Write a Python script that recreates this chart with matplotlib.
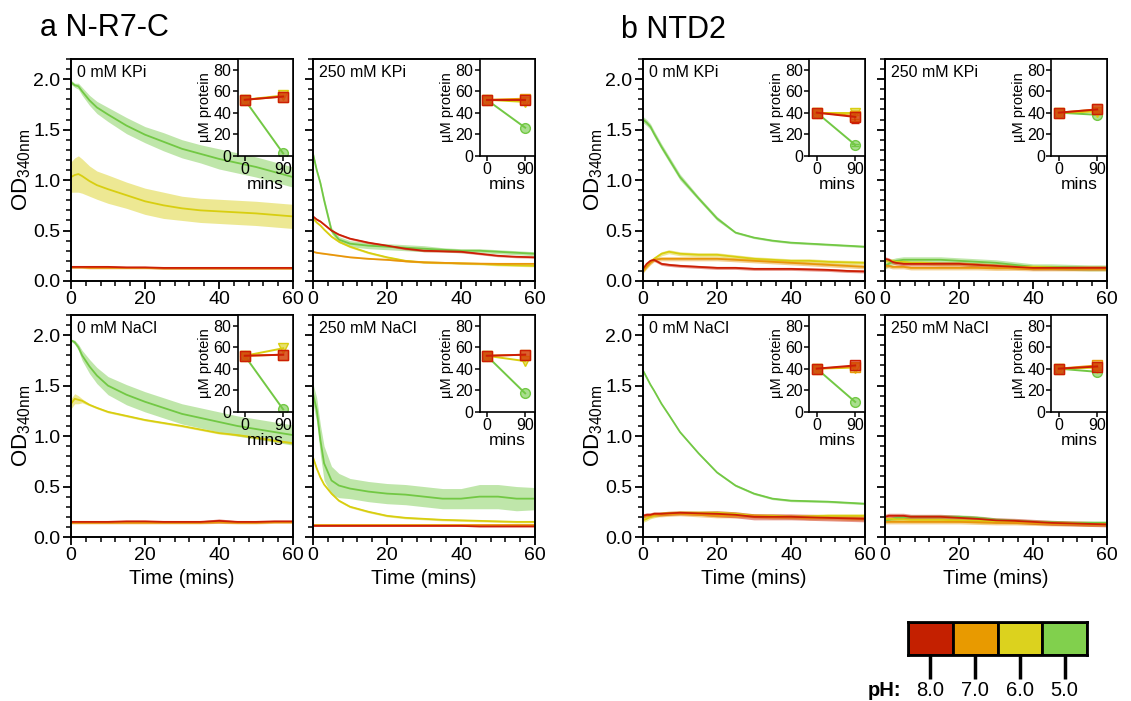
import numpy as np
import matplotlib
matplotlib.use('Agg')
import matplotlib.pyplot as plt
from matplotlib.ticker import MultipleLocator, FormatStrFormatter

plt.rcParams['font.family'] = ['Liberation Sans', 'DejaVu Sans']
plt.rcParams['mathtext.fontset'] = 'custom'
plt.rcParams['mathtext.rm'] = 'Liberation Sans'
plt.rcParams['mathtext.it'] = 'Liberation Sans:italic'

# ---------------- data ----------------
ph_labels = ['8.0', '7.0', '6.0', '5.0']
line_colors = ['#CC1E05', '#E8960A', '#D8CE10', '#72C844']
box_colors = ['#C42000', '#E89A00', '#DCD21E', '#81D04D']
markers = ['s', 's', 'v', 'o']

T = [0, 1, 2, 3, 5, 7, 10, 15, 20, 25, 30, 35, 40, 45, 50, 55, 60]

# order of series in every panel: pH 8.0 (red), 7.0 (orange), 6.0 (yellow), 5.0 (green)
A_KPI0 = [
    [0.14, 0.14, 0.14, 0.14, 0.14, 0.14, 0.14, 0.135, 0.135, 0.13, 0.13, 0.13, 0.13, 0.13, 0.13, 0.13, 0.13],
    [0.135, 0.135, 0.135, 0.135, 0.13, 0.13, 0.13, 0.13, 0.13, 0.125, 0.125, 0.125, 0.125, 0.125, 0.125, 0.125, 0.125],
    [1.03, 1.05, 1.06, 1.04, 0.99, 0.95, 0.91, 0.85, 0.79, 0.75, 0.72, 0.70, 0.69, 0.68, 0.67, 0.655, 0.64],
    [1.97, 1.94, 1.93, 1.88, 1.79, 1.72, 1.65, 1.54, 1.45, 1.38, 1.31, 1.26, 1.21, 1.17, 1.13, 1.08, 1.03],
]
A_KPI0_SD = [
    [0.01] * 17,
    [0.01] * 17,
    [0.15, 0.17, 0.18, 0.17, 0.15, 0.14, 0.14, 0.13, 0.13, 0.13, 0.12, 0.12, 0.12, 0.12, 0.12, 0.12, 0.12],
    [0.02, 0.02, 0.03, 0.04, 0.05, 0.06, 0.07, 0.08, 0.08, 0.09, 0.09, 0.09, 0.10, 0.10, 0.10, 0.10, 0.10],
]

A_KPI250 = [
    [0.64, 0.61, 0.59, 0.56, 0.50, 0.46, 0.42, 0.38, 0.35, 0.32, 0.30, 0.295, 0.29, 0.27, 0.25, 0.24, 0.235],
    [0.29, 0.28, 0.275, 0.27, 0.26, 0.25, 0.235, 0.22, 0.21, 0.195, 0.185, 0.18, 0.175, 0.172, 0.17, 0.17, 0.17],
    [0.62, 0.58, 0.55, 0.51, 0.44, 0.39, 0.34, 0.28, 0.235, 0.20, 0.185, 0.18, 0.175, 0.17, 0.16, 0.155, 0.15],
    [1.26, 1.10, 0.97, 0.80, 0.50, 0.41, 0.37, 0.35, 0.34, 0.33, 0.32, 0.31, 0.30, 0.30, 0.29, 0.28, 0.27],
]
A_KPI250_SD = [
    [0.01] * 17,
    [0.005] * 17,
    [0.01] * 17,
    [0.02, 0.02, 0.02, 0.03, 0.03, 0.03, 0.03, 0.03, 0.03, 0.03, 0.03, 0.02, 0.02, 0.02, 0.02, 0.02, 0.02],
]

A_NACL0 = [
    [0.15, 0.15, 0.15, 0.15, 0.15, 0.15, 0.15, 0.155, 0.155, 0.15, 0.15, 0.15, 0.16, 0.15, 0.15, 0.155, 0.155],
    [0.14, 0.14, 0.14, 0.14, 0.14, 0.14, 0.14, 0.14, 0.14, 0.14, 0.14, 0.14, 0.145, 0.14, 0.14, 0.145, 0.145],
    [1.32, 1.37, 1.36, 1.35, 1.31, 1.28, 1.24, 1.20, 1.16, 1.13, 1.10, 1.065, 1.03, 1.01, 0.985, 0.955, 0.93],
    [1.95, 1.93, 1.88, 1.80, 1.69, 1.60, 1.50, 1.41, 1.34, 1.28, 1.22, 1.18, 1.14, 1.10, 1.07, 1.04, 1.01],
]
A_NACL0_SD = [
    [0.01, 0.01, 0.01, 0.01, 0.01, 0.01, 0.01, 0.01, 0.01, 0.01, 0.01, 0.01, 0.02, 0.01, 0.01, 0.01, 0.01],
    [0.01] * 17,
    [0.05, 0.05, 0.04, 0.02, 0.01, 0.01, 0.01, 0.01, 0.01, 0.01, 0.01, 0.01, 0.01, 0.01, 0.01, 0.01, 0.01],
    [0.01, 0.02, 0.03, 0.05, 0.07, 0.08, 0.09, 0.10, 0.10, 0.10, 0.10, 0.10, 0.10, 0.10, 0.10, 0.10, 0.10],
]

A_NACL250 = [
    [0.11, 0.11, 0.11, 0.11, 0.11, 0.11, 0.11, 0.11, 0.11, 0.11, 0.11, 0.11, 0.11, 0.105, 0.105, 0.105, 0.105],
    [0.115] * 17,
    [0.79, 0.68, 0.59, 0.52, 0.43, 0.36, 0.30, 0.25, 0.21, 0.19, 0.18, 0.17, 0.165, 0.16, 0.155, 0.15, 0.15],
    [1.42, 1.26, 0.96, 0.73, 0.56, 0.51, 0.48, 0.45, 0.43, 0.42, 0.40, 0.38, 0.38, 0.40, 0.40, 0.38, 0.38],
]
A_NACL250_SD = [
    [0.005] * 17,
    [0.005] * 17,
    [0.01] * 17,
    [0.10, 0.12, 0.15, 0.17, 0.14, 0.12, 0.10, 0.10, 0.10, 0.10, 0.10, 0.10, 0.10, 0.12, 0.12, 0.12, 0.11],
]

B_KPI0 = [
    [0.12, 0.17, 0.20, 0.21, 0.17, 0.16, 0.15, 0.14, 0.13, 0.13, 0.12, 0.12, 0.12, 0.115, 0.11, 0.10, 0.095],
    [0.10, 0.14, 0.18, 0.21, 0.22, 0.22, 0.22, 0.22, 0.22, 0.21, 0.20, 0.19, 0.18, 0.17, 0.16, 0.15, 0.14],
    [0.10, 0.15, 0.19, 0.22, 0.27, 0.29, 0.27, 0.26, 0.26, 0.24, 0.22, 0.21, 0.20, 0.20, 0.19, 0.185, 0.18],
    [1.60, 1.57, 1.53, 1.46, 1.33, 1.21, 1.03, 0.82, 0.62, 0.48, 0.43, 0.40, 0.38, 0.37, 0.36, 0.35, 0.34],
]
B_KPI0_SD = [
    [0.015] * 17,
    [0.02] * 17,
    [0.02] * 17,
    [0.03, 0.03, 0.03, 0.03, 0.03, 0.03, 0.03, 0.02, 0.02, 0.01, 0.01, 0.01, 0.01, 0.01, 0.01, 0.01, 0.01],
]

B_KPI250 = [
    [0.22, 0.21, 0.19, 0.18, 0.17, 0.17, 0.17, 0.17, 0.17, 0.16, 0.15, 0.14, 0.13, 0.13, 0.13, 0.13, 0.13],
    [0.15, 0.15, 0.14, 0.14, 0.14, 0.13, 0.13, 0.13, 0.13, 0.13, 0.125, 0.125, 0.12, 0.12, 0.12, 0.12, 0.12],
    [0.20, 0.20, 0.20, 0.19, 0.19, 0.18, 0.18, 0.17, 0.17, 0.16, 0.15, 0.14, 0.14, 0.135, 0.13, 0.13, 0.13],
    [0.15, 0.17, 0.19, 0.20, 0.21, 0.21, 0.21, 0.21, 0.20, 0.19, 0.18, 0.16, 0.14, 0.14, 0.135, 0.13, 0.13],
]
B_KPI250_SD = [
    [0.02] * 17,
    [0.02] * 17,
    [0.02] * 17,
    [0.03] * 17,
]

B_NACL0 = [
    [0.21, 0.22, 0.22, 0.23, 0.23, 0.235, 0.24, 0.235, 0.23, 0.22, 0.20, 0.20, 0.20, 0.195, 0.19, 0.185, 0.18],
    [0.20, 0.21, 0.21, 0.22, 0.22, 0.225, 0.23, 0.22, 0.21, 0.21, 0.21, 0.20, 0.20, 0.19, 0.19, 0.185, 0.18],
    [0.165, 0.18, 0.20, 0.21, 0.23, 0.235, 0.24, 0.24, 0.24, 0.23, 0.21, 0.21, 0.20, 0.205, 0.21, 0.21, 0.21],
    [1.65, 1.58, 1.51, 1.45, 1.32, 1.21, 1.04, 0.83, 0.64, 0.51, 0.43, 0.38, 0.36, 0.355, 0.35, 0.34, 0.33],
]
B_NACL0_SD = [
    [0.02, 0.02, 0.02, 0.02, 0.02, 0.02, 0.02, 0.02, 0.03, 0.03, 0.03, 0.03, 0.03, 0.03, 0.03, 0.03, 0.03],
    [0.02] * 17,
    [0.02] * 17,
    [0.01] * 17,
]

B_NACL250 = [
    [0.20, 0.21, 0.21, 0.21, 0.21, 0.20, 0.20, 0.20, 0.19, 0.18, 0.165, 0.16, 0.15, 0.14, 0.135, 0.13, 0.125],
    [0.15, 0.15, 0.15, 0.15, 0.15, 0.15, 0.15, 0.15, 0.15, 0.145, 0.14, 0.14, 0.135, 0.13, 0.13, 0.125, 0.125],
    [0.18, 0.18, 0.18, 0.175, 0.175, 0.17, 0.17, 0.17, 0.165, 0.16, 0.155, 0.15, 0.145, 0.14, 0.135, 0.13, 0.13],
    [0.165, 0.17, 0.18, 0.19, 0.195, 0.20, 0.20, 0.20, 0.20, 0.19, 0.17, 0.16, 0.15, 0.145, 0.14, 0.14, 0.14],
]
B_NACL250_SD = [
    [0.025] * 17,
    [0.02] * 17,
    [0.02] * 17,
    [0.02] * 17,
]

# insets: protein (uM) at 0 and 90 mins
INSET_MINS = [0, 90]
INS_A_KPI0 = [[52, 55], [52, 55], [52, 56], [52, 2]]
INS_A_KPI250 = [[52, 52], [52, 53], [52, 50], [52, 26]]
INS_A_NACL0 = [[52, 53], [52, 53], [52, 59], [52, 2]]
INS_A_NACL250 = [[52, 53], [52, 53], [52, 47], [52, 17]]
INS_B_KPI0 = [[40, 36], [40, 37], [40, 40], [40, 10]]
INS_B_KPI0_ERR = [[0, 6], [0, 3], [0, 2], [0, 1]]
INS_B_KPI250 = [[40, 43], [40, 43], [40, 41], [40, 38]]
INS_B_NACL0 = [[40, 43], [40, 42], [40, 41], [40, 9]]
INS_B_NACL250 = [[40, 42], [40, 43], [40, 41], [40, 37]]

panel_titles = ['0 mM KPi', '250 mM KPi', '0 mM NaCl', '250 mM NaCl']

# ---------------- figure ----------------
W, H = 1131, 701
fig = plt.figure(figsize=(W / 100, H / 100), dpi=100)


def fx(px):
    return px / W


def fy(py):
    return 1 - py / H


col_left = [71, 313, 643, 885]
col_w = 222
row_top = [59, 315]
row_h = 222

panels = [
    (0, 0, A_KPI0, A_KPI0_SD, INS_A_KPI0, None, panel_titles[0]),
    (0, 1, A_KPI250, A_KPI250_SD, INS_A_KPI250, None, panel_titles[1]),
    (1, 0, A_NACL0, A_NACL0_SD, INS_A_NACL0, None, panel_titles[2]),
    (1, 1, A_NACL250, A_NACL250_SD, INS_A_NACL250, None, panel_titles[3]),
    (0, 2, B_KPI0, B_KPI0_SD, INS_B_KPI0, INS_B_KPI0_ERR, panel_titles[0]),
    (0, 3, B_KPI250, B_KPI250_SD, INS_B_KPI250, None, panel_titles[1]),
    (1, 2, B_NACL0, B_NACL0_SD, INS_B_NACL0, None, panel_titles[2]),
    (1, 3, B_NACL250, B_NACL250_SD, INS_B_NACL250, None, panel_titles[3]),
]

draw_order = [3, 2, 1, 0]  # green first, red on top

t = np.array(T)
for (r, c, od, sd, ins, ins_err, title) in panels:
    ax = fig.add_axes([fx(col_left[c]), fy(row_top[r] + row_h), fx(col_w), row_h / H])
    for i in draw_order:
        y = np.array(od[i])
        s = np.array(sd[i])
        ax.fill_between(t, y - s, y + s, color=line_colors[i], alpha=0.45, lw=0)
        ax.plot(t, y, color=line_colors[i], lw=1.3)
    ax.set_xlim(0, 60)
    ax.set_ylim(0, 2.2)
    ax.xaxis.set_major_locator(MultipleLocator(20))
    ax.xaxis.set_minor_locator(MultipleLocator(4))
    ax.yaxis.set_major_locator(MultipleLocator(0.5))
    ax.yaxis.set_minor_locator(MultipleLocator(0.1))
    ax.tick_params(which='major', direction='out', length=6, width=1.3, labelsize=14, pad=1.5)
    ax.tick_params(which='minor', direction='out', length=3.5, width=1.1)
    for sp in ax.spines.values():
        sp.set_linewidth(1.4)
    if c in (0, 2):
        ax.yaxis.set_major_formatter(FormatStrFormatter('%.1f'))
        ax.set_ylabel(r'OD$_{\mathregular{340nm}}$', fontsize=16, labelpad=0)
    else:
        ax.tick_params(axis='y', which='both', labelleft=False)
    if r == 1:
        ax.set_xlabel('Time (mins)', fontsize=14.5, labelpad=3)
    ax.text(0.025, 0.975, title, transform=ax.transAxes, ha='left', va='top', fontsize=11.5)

    # inset
    iw, ih = 0.25, 0.435
    ia = ax.inset_axes([1 - iw, 1 - ih, iw, ih])
    for i in draw_order:
        yerr = None
        if ins_err is not None:
            yerr = ins_err[i]
        ia.errorbar(INSET_MINS, ins[i], yerr=yerr, color=line_colors[i], lw=1.4,
                    marker=markers[i], ms=7, mfc=line_colors[i] + '99', mec=line_colors[i],
                    mew=1.0, capsize=3, elinewidth=1.2)
    ia.set_xlim(-17, 113)
    ia.set_ylim(0, 90)
    ia.set_xticks([0, 90])
    ia.set_yticks([0, 20, 40, 60, 80])
    ia.tick_params(direction='out', length=3.5, width=1.1, labelsize=11.5, pad=1)
    for sp in ia.spines.values():
        sp.set_linewidth(1.2)
    ia.set_xlabel('mins', fontsize=12.5, labelpad=0)
    ia.set_ylabel('µM protein', fontsize=10.5, labelpad=1)

fig.text(fx(40), fy(28), 'a N-R7-C', fontsize=22, ha='left', va='center')
fig.text(fx(621), fy(30), 'b NTD2', fontsize=22, ha='left', va='center')

# pH legend
lax = fig.add_axes([fx(908), fy(655), fx(179), 33 / H])
lax.bar(range(4), [1] * 4, width=1.0, color=box_colors, edgecolor='black', linewidth=2)
lax.set_xlim(-0.5, 3.5)
lax.set_ylim(0, 1)
lax.set_yticks([])
lax.set_xticks(range(4))
lax.set_xticklabels(ph_labels, fontsize=14.5)
lax.tick_params(axis='x', direction='out', length=17, width=2.5, pad=1.5)
for sp in lax.spines.values():
    sp.set_linewidth(2)
fig.text(fx(868), fy(690), 'pH:', fontsize=14.5, fontweight='bold', ha='left', va='center')

fig.savefig('out.png', dpi=100)
